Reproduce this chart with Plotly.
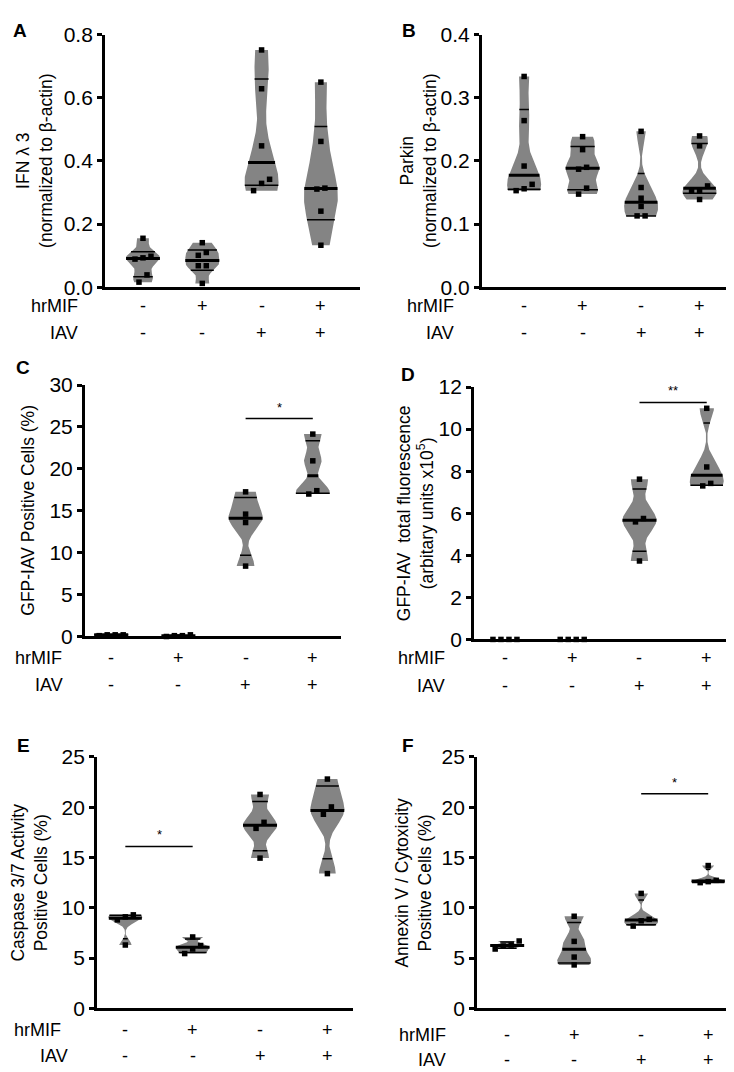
import numpy as np
import plotly.graph_objects as go

W, H = 734, 1072
FONT = "Liberation Sans, Arial, Helvetica, sans-serif"
GRAY = "#848484"

# ---------------- data ----------------
conditions = ["ctrl", "hrMIF", "IAV", "hrMIF+IAV"]
hrMIF_signs = ["-", "+", "-", "+"]
IAV_signs = ["-", "-", "+", "+"]

ifn_lambda3 = [
    [0.016, 0.039, 0.089, 0.093, 0.098, 0.155],
    [0.012, 0.068, 0.068, 0.101, 0.110, 0.141],
    [0.306, 0.329, 0.342, 0.448, 0.629, 0.752],
    [0.133, 0.241, 0.311, 0.314, 0.462, 0.650],
]
parkin = [
    [0.153, 0.156, 0.163, 0.192, 0.264, 0.334],
    [0.1475, 0.157, 0.187, 0.190, 0.218, 0.2386],
    [0.113, 0.113, 0.128, 0.141, 0.158, 0.247],
    [0.139, 0.152, 0.153, 0.1605, 0.224, 0.2397],
]
gfp_positive = [
    [0.1, 0.2, 0.2, 0.2],
    [0.0, 0.2, 0.1, 0.1],
    [8.4, 13.6, 14.6, 17.26],
    [17.0, 17.4, 20.96, 24.15],
]
gfp_fluorescence = [
    [0.0, 0.0, 0.0, 0.0],
    [0.0, 0.0, 0.0, 0.0],
    [3.73, 5.59, 5.75, 7.62],
    [7.3, 7.42, 8.2, 10.99],
]
caspase37 = [
    [6.3, 8.8, 9.1, 9.3],
    [5.45, 5.9, 6.25, 7.1],
    [14.94, 17.9, 18.5, 21.27],
    [13.4, 19.3, 20.03, 22.8],
]
annexin_cytox = [
    [5.9, 6.2, 6.3, 6.7],
    [4.32, 5.1, 6.66, 9.16],
    [8.18, 8.7, 8.85, 11.43],
    [12.5, 12.6, 12.73, 14.2],
]

# significance brackets
sig_panels = ["C", "D", "E", "F"]
sig_from = [2, 2, 0, 2]
sig_to = [3, 3, 1, 3]
sig_level = [26.0, 11.27, 16.1, 21.33]
sig_text = ["*", "**", "*", "*"]

# ---------------- panel layout ----------------
panels = [
    dict(key="A", data=ifn_lambda3, title="IFN λ 3<br>(normalized to β-actin)",
         ymax=0.8, dtick=0.2, fmt="{:.1f}",
         xdom=[0.1322, 0.4796], ydom=[0.7453, 0.9860], xr=[-0.64, 3.66],
         title_x=27, letter=(12, 11), lab_x=(72, 72), lab_y=(292, 320)),
    dict(key="B", data=parkin, title="Parkin<br>(normalized to β-actin)",
         ymax=0.4, dtick=0.1, fmt="{:.1f}",
         xdom=[0.6458, 0.9932], ydom=[0.7453, 0.9860], xr=[-0.72, 3.64],
         title_x=411, letter=(401, 11), lab_x=(448, 448), lab_y=(292, 320)),
    dict(key="C", data=gfp_positive, title="GFP-IAV Positive Cells (%)",
         ymax=30, dtick=5, fmt="{:.0f}",
         xdom=[0.1049, 0.4537], ydom=[0.4123, 0.6521], xr=[-0.39, 3.42],
         title_x=20, letter=(15, 355), lab_x=(56, 57), lab_y=(652, 680)),
    dict(key="D", data=gfp_fluorescence,
         title="GFP-IAV  total fluorescence<br>(arbitary units x10<sup>5</sup>)",
         ymax=12, dtick=2, fmt="{:.0f}",
         xdom=[0.6349, 0.9877], ydom=[0.4095, 0.6502], xr=[-0.46, 3.39],
         title_x=407, letter=(400, 362), lab_x=(439, 439), lab_y=(652, 681)),
    dict(key="E", data=caspase37, title="Caspase 3/7 Activity<br>Positive Cells (%)",
         ymax=25, dtick=5, fmt="{:.0f}",
         xdom=[0.1213, 0.4700], ydom=[0.0578, 0.2976], xr=[-0.42, 3.38],
         title_x=22, letter=(15, 741), lab_x=(55, 62), lab_y=(1032, 1059)),
    dict(key="F", data=annexin_cytox, title="Annexin V / Cytoxicity<br>Positive Cells (%)",
         ymax=25, dtick=5, fmt="{:.0f}",
         xdom=[0.6390, 0.9877], ydom=[0.0578, 0.2976], xr=[-0.45, 3.37],
         title_x=406, letter=(400, 741), lab_x=(440, 440), lab_y=(1037, 1063)),
]

VIOLIN_HALF_PX = 17.0
POINT_GAP_PX = 8.0
CLUSTER_PX = 8.0
BW_FRAC = 0.15


def kde(vals, ys, bw):
    v = np.asarray(vals, dtype=float)[:, None]
    return np.exp(-0.5 * ((ys[None, :] - v) / bw) ** 2).sum(axis=0)


def quartiles(vals):
    v = np.asarray(vals, dtype=float)
    return [float(np.percentile(v, p, method="weibull")) for p in (25, 50, 75)]


def swarm_offsets(vals, ppu_y):
    order = np.argsort(vals, kind="stable")
    sv = np.asarray(vals, dtype=float)[order]
    clusters, cur = [], [0]
    for i in range(1, len(sv)):
        if (sv[i] - sv[cur[-1]]) * ppu_y < CLUSTER_PX:
            cur.append(i)
        else:
            clusters.append(cur)
            cur = [i]
    clusters.append(cur)
    offs = np.zeros(len(sv))
    for c in clusters:
        k = len(c)
        for j, idx in enumerate(c):
            offs[idx] = (j - (k - 1) / 2.0)
    res = np.zeros(len(sv))
    res[order] = offs
    return res


fig = go.Figure()
layout = dict(width=W, height=H, margin=dict(l=0, r=0, t=0, b=0),
              paper_bgcolor="white", plot_bgcolor="white", showlegend=False,
              font=dict(family=FONT, color="black"))
annotations, shapes = [], []

for i, p in enumerate(panels):
    sfx = "" if i == 0 else str(i + 1)
    xref, yref = "x" + sfx, "y" + sfx
    wpx = (p["xdom"][1] - p["xdom"][0]) * W
    hpx = (p["ydom"][1] - p["ydom"][0]) * H
    ppu_x = wpx / (p["xr"][1] - p["xr"][0])
    ppu_y = hpx / p["ymax"]
    half_u = VIOLIN_HALF_PX / ppu_x

    for g, vals in enumerate(p["data"]):
        v = np.asarray(vals, dtype=float)
        lo, hi = v.min(), v.max()
        if hi - lo > 0:
            bw = BW_FRAC * (hi - lo)
            ys = np.linspace(lo, hi, 120)
            d = kde(v, ys, bw)
            scale = half_u / d.max()
            wd = d * scale
            px_ = np.concatenate([g + wd, (g - wd)[::-1]])
            py_ = np.concatenate([ys, ys[::-1]])
            fig.add_trace(go.Scatter(x=px_, y=py_, fill="toself", fillcolor=GRAY,
                                     mode="lines", line=dict(width=0, color=GRAY),
                                     xaxis=xref, yaxis=yref, hoverinfo="skip",
                                     cliponaxis=False))
            q1, med, q3 = quartiles(v)
            for q, lw in ((q1, 1.5), (q3, 1.5), (med, 3)):
                wq = float(kde(v, np.array([q]), bw)[0] * scale)
                fig.add_trace(go.Scatter(x=[g - wq, g + wq], y=[q, q], mode="lines",
                                         line=dict(color="black", width=lw),
                                         xaxis=xref, yaxis=yref, hoverinfo="skip",
                                         cliponaxis=False))
        offs = swarm_offsets(vals, ppu_y) * POINT_GAP_PX / ppu_x
        fig.add_trace(go.Scatter(x=g + offs, y=v, mode="markers",
                                 marker=dict(symbol="square", size=5.5, color="black",
                                             line=dict(width=0)),
                                 xaxis=xref, yaxis=yref, hoverinfo="skip",
                                 cliponaxis=False))

    tickvals = [round(k * p["dtick"], 6) for k in range(int(round(p["ymax"] / p["dtick"])) + 1)]
    layout["xaxis" + sfx] = dict(domain=p["xdom"], range=p["xr"], anchor=yref,
                                 showline=True, linewidth=3, linecolor="black",
                                 showticklabels=False, ticks="", showgrid=False,
                                 zeroline=False, fixedrange=True)
    layout["yaxis" + sfx] = dict(domain=p["ydom"], range=[0, p["ymax"] * 1.0005],
                                 anchor=xref, showline=True, linewidth=3,
                                 linecolor="black", ticks="outside", ticklen=5,
                                 tickwidth=2.5, tickcolor="black",
                                 tickvals=tickvals,
                                 ticktext=[p["fmt"].format(t) for t in tickvals],
                                 tickfont=dict(size=21, family=FONT),
                                 showgrid=False, zeroline=False, fixedrange=True)

    annotations.append(dict(text=p["title"], textangle=-90, xref="paper", yref="paper",
                            x=p["title_x"] / W, y=(p["ydom"][0] + p["ydom"][1]) / 2,
                            xanchor="center", yanchor="middle", showarrow=False,
                            font=dict(size=17.5, family=FONT)))
    annotations.append(dict(text="<b>%s</b>" % p["key"], xref="paper", yref="paper",
                            x=p["letter"][0] / W, y=1 - p["letter"][1] / H,
                            xanchor="center", yanchor="middle", showarrow=False,
                            font=dict(size=19, family=FONT)))
    for row, (name, signs) in enumerate((("hrMIF", hrMIF_signs), ("IAV", IAV_signs))):
        yy = 1 - p["lab_y"][row] / H
        annotations.append(dict(text=name, xref="paper", yref="paper",
                                x=p["lab_x"][row] / W, y=yy, xanchor="right",
                                yanchor="middle", showarrow=False,
                                font=dict(size=18, family=FONT)))
        for g, s in enumerate(signs):
            annotations.append(dict(text=s, xref=xref, yref="paper", x=g, y=yy,
                                    xanchor="center", yanchor="middle", showarrow=False,
                                    font=dict(size=18, family=FONT)))

    for k, key in enumerate(sig_panels):
        if key == p["key"]:
            shapes.append(dict(type="line", xref=xref, yref=yref,
                               x0=sig_from[k], x1=sig_to[k],
                               y0=sig_level[k], y1=sig_level[k],
                               line=dict(color="black", width=1.5)))
            annotations.append(dict(text=sig_text[k], xref=xref, yref=yref,
                                    x=(sig_from[k] + sig_to[k]) / 2, y=sig_level[k],
                                    xanchor="center", yanchor="bottom", yshift=2,
                                    showarrow=False, font=dict(size=13, family=FONT)))

layout["annotations"] = annotations
layout["shapes"] = shapes
fig.update_layout(**layout)
fig.write_html("out.html")
